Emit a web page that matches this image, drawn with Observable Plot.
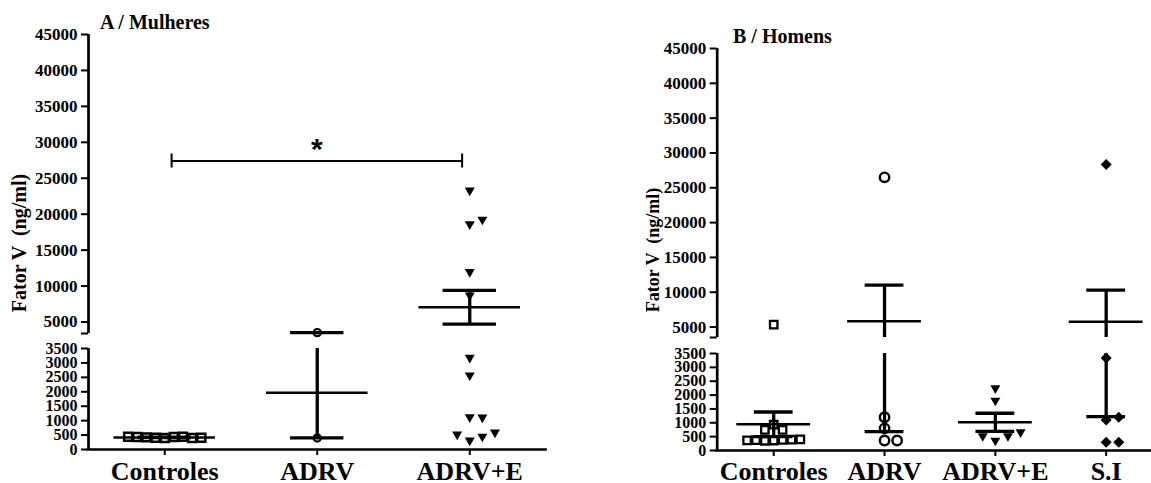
<!DOCTYPE html>
<html>
<head>
<meta charset="utf-8">
<script src="https://cdn.jsdelivr.net/npm/d3@7"></script>
<script src="https://cdn.jsdelivr.net/npm/@observablehq/plot@0.6"></script>
<style>
  body { margin: 0; background: #fff; }
  #chart { position: relative; width: 1151px; height: 483px; overflow: hidden;
           font-family: "Liberation Serif", "Times New Roman", serif; font-weight: bold; color: #000; }
  #chart svg { position: absolute; overflow: visible; }
  .title { position: absolute; font-size: 20px; line-height: 20px; white-space: nowrap; }
  .ylabel { position: absolute; line-height: 1; white-space: pre; transform: translate(-50%, -50%) rotate(-90deg); }
</style>
</head>
<body>
<div id="chart"></div>
<script>
// Fator V (ng/ml) by group
const categoriesA = ["Controles", "ADRV", "ADRV+E"];
const categoriesB = ["Controles", "ADRV", "ADRV+E", "S.I"];

// A / Mulheres
const mulheresControles = [400, 430, 410, 440, 420, 400, 430, 410, 440];
const mulheresADRV = [3525, 400];
const mulheresADRVE = [23300, 18600, 19250, 11960, 8720, 3180, 2570, 1120, 1110, 312, 450, 520, 590];

// B / Homens
const homensControles = [5350, 935, 745, 745, 360, 380, 350, 390, 370, 400, 365];
const homensADRV = [26500, 800, 1200, 360, 360];
const homensADRVE = [2250, 1800, 360, 520, 520, 660];
const homensSI = [28330, 3335, 1105, 1200, 300, 300];

// axis ticks (the y axis is broken at 3500)
const axisBreak = 3500;
const yTicksUpper = [5000, 10000, 15000, 20000, 25000, 30000, 35000, 40000, 45000];
const yTicksLower = [0, 500, 1000, 1500, 2000, 2500, 3000, 3500];

// significance bracket, panel A
const bracketGroups = ["Controles", "ADRV+E"];
const bracketLevel = 27400;
const bracketLabel = "*";

// marker shapes
const triangleDown = {
  draw(ctx, size) {
    const s = Math.sqrt(size * 4 / Math.sqrt(3));
    const h = s * Math.sqrt(3) / 2;
    ctx.moveTo(0, 2 * h / 3);
    ctx.lineTo(-s / 2, -h / 3);
    ctx.lineTo(s / 2, -h / 3);
    ctx.closePath();
  }
};
const diamond = {
  draw(ctx, size) {
    const d = Math.sqrt(size / 2);
    ctx.moveTo(0, -d);
    ctx.lineTo(d, 0);
    ctx.lineTo(0, d);
    ctx.lineTo(-d, 0);
    ctx.closePath();
  }
};

const root = document.getElementById("chart");

function addDiv(cls, text, css) {
  const el = document.createElement("div");
  el.className = cls;
  el.textContent = text;
  Object.assign(el.style, css);
  root.appendChild(el);
}

function buildPanel(cfg) {
  const {left, width, marginLeft, marginRight, xDomain, categories, series, markers, upper, lower, bracket} = cfg;
  const pxX = (width - marginLeft - marginRight) / (xDomain[1] - xDomain[0]);
  const segs = [upper, lower].map((s, k) => ({
    ...s,
    isLower: k === 1,
    pxY: (s.height - s.marginTop - s.marginBottom) / (s.domain[1] - s.domain[0])
  }));
  const inSeg = (seg, v) => seg.isLower ? v <= axisBreak : v > axisBreak;
  const inDomain = (seg, v) => v >= seg.domain[0] && v <= seg.domain[1];

  // scatter layout: each point takes the nearest free column slot
  const stepPx = 12.6, dMin = 10, maxHalf = 0.24 * pxX;
  const points = [];
  const stats = [];
  series.forEach((values, i) => {
    const slots = new Array(values.length).fill(0);
    for (const seg of segs) {
      const placed = [];
      values.forEach((v, j) => {
        if (!inSeg(seg, v)) return;
        const py = v * seg.pxY;
        for (let k = 0; ; k++) {
          const cands = k === 0 ? [0] : [k, -k];
          const s = cands.find(c => !placed.some(p => p.slot === c && Math.abs(p.py - py) < dMin));
          if (s !== undefined) { placed.push({slot: s, py}); slots[j] = s; return; }
        }
      });
    }
    const maxSlot = d3.max(slots, Math.abs) || 1;
    const step = Math.min(stepPx, maxHalf / maxSlot);
    values.forEach((v, j) => points.push({group: i, value: v, x: i + slots[j] * step / pxX}));
    const mean = d3.mean(values);
    const sem = d3.deviation(values) / Math.sqrt(values.length);
    stats.push({x: i, mean, lo: mean - sem, hi: mean + sem});
  });

  const meanHalf = 0.333, capHalf = 0.175;

  for (const seg of segs) {
    const caps = stats.flatMap(d => [d.lo, d.hi].filter(v => inDomain(seg, v)).map(v => ({x: d.x, y: v})));
    const means = stats.filter(d => inDomain(seg, d.mean));
    const marks = [
      Plot.ruleX([xDomain[0]], {stroke: "#000", strokeWidth: 2.7}),
      Plot.axisY({
        ticks: seg.isLower ? yTicksLower : [seg.domain[0], ...yTicksUpper],
        tickFormat: d => (!seg.isLower && d === seg.domain[0]) ? "" : String(d),
        tickSize: 7, tickPadding: 4, strokeWidth: 2, fontSize: seg.isLower ? 16 : 17, label: null
      }),
      // mean ± SEM
      Plot.ruleX(stats, {x: "x", y1: "lo", y2: "hi", stroke: "#000", strokeWidth: 3.3, clip: true}),
      Plot.ruleY(caps, {y: "y", x1: d => d.x - capHalf, x2: d => d.x + capHalf, stroke: "#000", strokeWidth: 3.3}),
      Plot.ruleY(means, {y: "mean", x1: d => d.x - meanHalf, x2: d => d.x + meanHalf, stroke: "#000", strokeWidth: 2.5})
    ];
    markers.forEach((m, i) => {
      const pts = points.filter(p => p.group === i && inSeg(seg, p.value));
      marks.push(Plot.dot(pts, {
        x: "x", y: "value", symbol: m.symbol, r: m.r,
        fill: m.filled ? "#000" : "none",
        stroke: m.filled ? "none" : "#000",
        strokeWidth: m.strokeWidth || 0
      }));
    });
    if (seg.isLower) {
      marks.push(
        Plot.ruleY([0], {stroke: "#000", strokeWidth: 2.7, strokeLinecap: "square"}),
        Plot.axisX({
          ticks: categories.map((_, i) => i),
          tickFormat: i => categories[i],
          tickSize: 6, tickPadding: cfg.xTickPadding, strokeWidth: 2, fontSize: 26, label: null
        })
      );
    } else if (bracket) {
      const i1 = categories.indexOf(bracket.groups[0]) + 0.045;
      const i2 = categories.indexOf(bracket.groups[1]) - 0.05;
      const k = 7 / seg.pxY;
      marks.push(
        Plot.ruleY([bracket.level], {x1: i1, x2: i2, stroke: "#000", strokeWidth: 2}),
        Plot.ruleX([i1, i2], {x: d => d, y1: bracket.level - k, y2: bracket.level + k, stroke: "#000", strokeWidth: 2}),
        Plot.text([bracket.label], {
          x: (i1 + i2) / 2, y: bracket.level, text: d => d, dy: -12,
          fontSize: 30, fontFamily: "Liberation Sans, Arial, sans-serif", fontWeight: "bold"
        })
      );
    }
    const svg = Plot.plot({
      width, height: seg.height,
      marginLeft, marginRight, marginTop: seg.marginTop, marginBottom: seg.marginBottom,
      x: {type: "linear", domain: xDomain, ...(seg.isLower ? {} : {axis: null})},
      y: {type: "linear", domain: seg.domain},
      style: {fontFamily: "'Liberation Serif', 'Times New Roman', serif", fontWeight: "bold",
              background: "transparent", color: "#000", overflow: "visible"},
      marks
    });
    svg.style.left = left + "px";
    svg.style.top = seg.top + "px";
    svg.style.maxWidth = "none";
    root.appendChild(svg);
  }
}

// A / Mulheres
buildPanel({
  left: 0, width: 560, marginLeft: 88, marginRight: 14.5,
  xDomain: [-0.5, 2.5], categories: categoriesA, xTickPadding: 6,
  series: [mulheresControles, mulheresADRV, mulheresADRVE],
  markers: [
    {symbol: "square", r: 4.5, strokeWidth: 2.5},
    {symbol: "circle", r: 3.6, strokeWidth: 2.2},
    {symbol: triangleDown, r: 3.7, filled: true}
  ],
  upper: {top: 0, height: 340, marginTop: 34, marginBottom: 7, domain: [3400, 45000]},
  lower: {top: 340, height: 143, marginTop: 8, marginBottom: 34, domain: [0, 3500]},
  bracket: {groups: bracketGroups, level: bracketLevel, label: bracketLabel}
});

// B / Homens
buildPanel({
  left: 600, width: 551, marginLeft: 116.7, marginRight: 1,
  xDomain: [-0.51, 3.4], categories: categoriesB, xTickPadding: 5,
  series: [homensControles, homensADRV, homensADRVE, homensSI],
  markers: [
    {symbol: "square", r: 4.2, strokeWidth: 2.3},
    {symbol: "circle", r: 4.7, strokeWidth: 2.4},
    {symbol: triangleDown, r: 3.7, filled: true},
    {symbol: diamond, r: 4.4, filled: true}
  ],
  upper: {top: 0, height: 344, marginTop: 48, marginBottom: 7, domain: [3500, 45000]},
  lower: {top: 344, height: 139, marginTop: 9, marginBottom: 33, domain: [0, 3500]}
});

addDiv("title", "A / Mulheres", {left: "100px", top: "11.5px"});
addDiv("title", "B / Homens", {left: "733px", top: "25.5px"});
addDiv("ylabel", "Fator V  (ng/ml)", {left: "18.5px", top: "243px", fontSize: "20px"});
addDiv("ylabel", "Fator V  (ng/ml)", {left: "652.5px", top: "249.5px", fontSize: "18px"});
</script>
</body>
</html>
